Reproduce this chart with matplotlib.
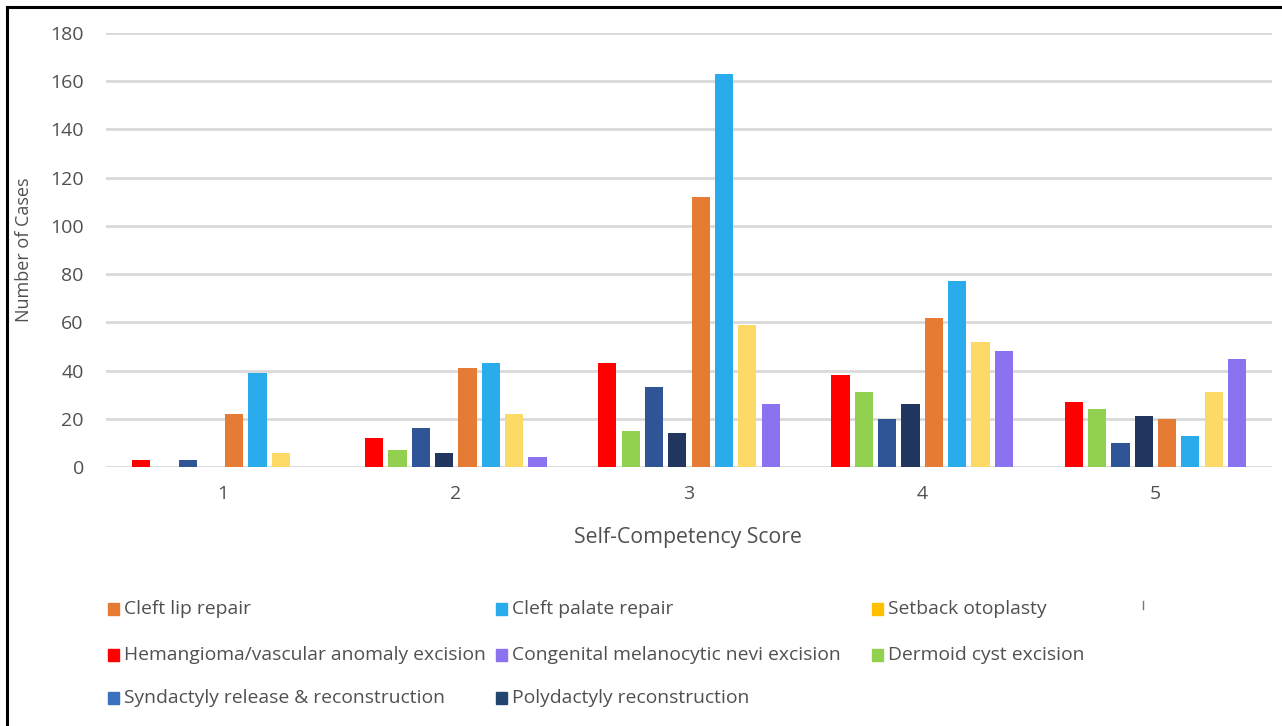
import numpy as np
import matplotlib
matplotlib.use("Agg")
import matplotlib.pyplot as plt
from matplotlib.lines import Line2D
from matplotlib.patches import Rectangle

scores = ["1", "2", "3", "4", "5"]

procedures = [
    "Hemangioma/vascular anomaly excision",
    "Dermoid cyst excision",
    "Syndactyly release & reconstruction",
    "Polydactyly reconstruction",
    "Cleft lip repair",
    "Cleft palate repair",
    "Setback otoplasty",
    "Congenital melanocytic nevi excision",
]

hemangioma = [3, 12, 43, 38, 27]
dermoid = [0, 7, 15, 31, 24]
syndactyly = [3, 16, 33, 20, 10]
polydactyly = [0, 6, 14, 26, 21]
cleft_lip = [22, 41, 112, 62, 20]
cleft_palate = [39, 43, 163, 77, 13]
otoplasty = [6, 22, 59, 52, 31]
nevi = [0, 4, 26, 48, 45]

series = [hemangioma, dermoid, syndactyly, polydactyly,
          cleft_lip, cleft_palate, otoplasty, nevi]
bar_colors = ["#FF0000", "#92D050", "#2F5597", "#22375F",
              "#E67C33", "#2AABEB", "#FDD966", "#8B72F0"]
key_colors = ["#FF0000", "#92D050", "#3A72C0", "#22466F",
              "#E67C33", "#2AABEB", "#FFC000", "#8B72F0"]

plt.rc("font", family=["Open Sans", "DejaVu Sans"])
txt = "#505050"

W, H = 1282, 726
fig = plt.figure(figsize=(W / 100, H / 100), dpi=100)
ax = fig.add_axes([106 / W, (H - 467) / H, (1272 - 106) / W, (467 - 33) / H])

x = np.arange(1, len(scores) + 1)
slot, width = 0.1, 0.078
for k, (vals, c) in enumerate(zip(series, bar_colors)):
    ax.bar(x + (k - 3.5) * slot, vals, width, color=c, zorder=3)

ax.set_xlim(0.5, 5.5)
ax.set_ylim(0, 180)
ax.set_yticks(range(0, 181, 20))
ax.set_xticks(x)
ax.set_xticklabels(scores)
ax.grid(axis="y", color="#D9D9D9", linewidth=2, zorder=0)
for s in ax.spines.values():
    s.set_visible(False)
ax.tick_params(length=0, labelsize=14, labelcolor=txt)
ax.tick_params(axis="y", pad=16)
ax.tick_params(axis="x", pad=13)
ax.set_ylabel("Number of Cases", fontsize=13, color=txt)
ax.yaxis.set_label_coords((33 - 106) / (1272 - 106), 0.5)

fig.text(688 / W, 1 - 537 / H, "Self-Competency Score", fontsize=15.3,
         color=txt, ha="center", va="center")

# legend laid out in three columns, row by row
order = [4, 5, 6, 0, 7, 1, 2, 3]
col_x = [108, 496, 872]
row_y = [609, 655, 698]
for i, idx in enumerate(order):
    r, c = divmod(i, 3)
    px, py = col_x[c], row_y[r]
    fig.add_artist(Rectangle((px / W, 1 - (py + 6) / H), 11 / W, 12 / H,
                             transform=fig.transFigure,
                             color=key_colors[idx]))
    fig.text((px + 16) / W, 1 - py / H, procedures[idx], fontsize=13.9,
             color=txt, ha="left", va="center")

# frame lines and a stray mark
fig.add_artist(Line2D([6.5 / W, 6.5 / W], [0, 1 - 6.5 / H], color="black",
                      linewidth=2.2, transform=fig.transFigure))
fig.add_artist(Line2D([6.5 / W, 1], [1 - 6.5 / H, 1 - 6.5 / H], color="black",
                      linewidth=2.2, transform=fig.transFigure))
fig.add_artist(Line2D([1143 / W, 1143 / W], [1 - 601 / H, 1 - 609 / H],
                      color="#777777", linewidth=1, transform=fig.transFigure))

fig.savefig("out.png", dpi=100)
